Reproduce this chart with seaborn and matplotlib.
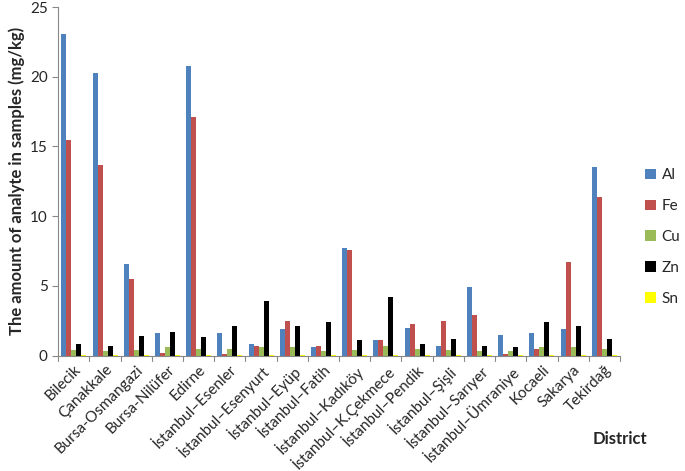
import matplotlib
matplotlib.use("Agg")
import matplotlib.pyplot as plt
import seaborn as sns
import pandas as pd

districts = ["Bilecik", "Çanakkale", "Bursa-Osmangazi", "Bursa-Nilüfer", "Edirne",
             "İstanbul–Esenler", "İstanbul–Esenyurt", "İstanbul–Eyüp", "İstanbul–Fatih",
             "İstanbul–Kadıköy", "İstanbul–K.Çekmece", "İstanbul–Pendik", "İstanbul–Şişli",
             "İstanbul–Sarıyer", "İstanbul–Ümraniye", "Kocaeli", "Sakarya", "Tekirdağ"]

al = [23.1, 20.3, 6.6, 1.6, 20.8, 1.6, 0.8, 1.9, 0.6, 7.7, 1.1, 2.0, 0.7, 4.9, 1.5, 1.6, 1.9, 13.5]
fe = [15.5, 13.7, 5.5, 0.2, 17.1, 0.1, 0.7, 2.5, 0.7, 7.6, 1.1, 2.3, 2.5, 2.9, 0.1, 0.5, 6.7, 11.4]
cu = [0.4, 0.3, 0.4, 0.6, 0.5, 0.5, 0.6, 0.6, 0.3, 0.4, 0.7, 0.5, 0.4, 0.3, 0.3, 0.6, 0.6, 0.5]
zn = [0.8, 0.7, 1.4, 1.7, 1.3, 2.1, 3.9, 2.1, 2.4, 1.1, 4.2, 0.8, 1.2, 0.7, 0.6, 2.4, 2.1, 1.2]
sn = [0.05] * 18

elements = ["Al", "Fe", "Cu", "Zn", "Sn"]
colors = ["#4F81BD", "#C0504D", "#9BBB59", "#000000", "#FFFF00"]

rows = []
for el, vals in zip(elements, [al, fe, cu, zn, sn]):
    for d, v in zip(districts, vals):
        rows.append({"District": d, "Element": el, "Value": v})
df = pd.DataFrame(rows)

sns.set_style("white")
plt.rcParams["font.family"] = ["Lato", "DejaVu Sans"]

fig, ax = plt.subplots(figsize=(6.85, 4.71), dpi=100)
sns.barplot(data=df, x="District", y="Value", hue="Element", order=districts,
            hue_order=elements, palette=colors, saturation=1, width=0.8, ax=ax,
            edgecolor="none", errorbar=None)

ax.set_ylim(0, 25)
ax.set_yticks([0, 5, 10, 15, 20, 25])
ax.set_xlim(-0.5, len(districts) - 0.5)
ax.set_ylabel("The amount of analyte in samples (mg/kg)", fontsize=12, fontweight="bold")
ax.set_xlabel("")
ax.text(1.0, -0.24, "District", transform=ax.transAxes, fontsize=12,
        fontweight="bold", ha="center", va="center")
ax.tick_params(axis="y", labelsize=11, length=4, color="#888888", left=True)
ax.tick_params(axis="x", labelsize=11, length=0, pad=5)
plt.setp(ax.get_xticklabels(), rotation=45, ha="right", rotation_mode="anchor")
for x in range(len(districts) + 1):
    ax.plot([x - 0.5, x - 0.5], [0, -0.4], color="#888888", lw=0.8, clip_on=False)

for s in ["top", "right"]:
    ax.spines[s].set_visible(False)
for s in ["left", "bottom"]:
    ax.spines[s].set_color("#888888")

ax.legend(loc="center left", bbox_to_anchor=(1.02, 0.34), frameon=False,
          fontsize=11, handlelength=0.7, handleheight=0.7, labelspacing=1.1,
          handletextpad=0.4)

fig.subplots_adjust(left=0.085, right=0.905, top=0.985, bottom=0.245)
fig.savefig("out.png", dpi=100)
